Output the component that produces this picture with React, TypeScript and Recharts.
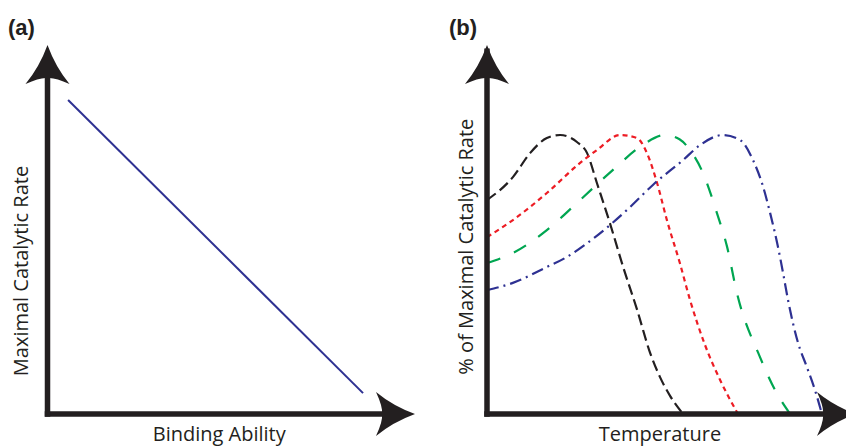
import React from "react";
import { LineChart, Line, XAxis, YAxis } from "recharts";

const INK = "#231f20";
const FONT = "'Open Sans', 'Noto Sans', sans-serif";

// panel (a): binding ability vs maximal catalytic rate
const bindingAbility = [0.61, 9.35];
const maxRate = [8.87, 0.59];

// panel (b): temperature vs % of maximal catalytic rate
const blackTemp = [0, 7.4, 12.3, 17.1, 20.9, 25.7, 28.6, 31.4, 35.1, 38.9, 42.9, 46.6, 49.4, 52.3, 56];
const blackRate = [76.7, 84.9, 93.5, 98.9, 100, 97.5, 93.5, 82.8, 68.5, 52.7, 37.3, 21.9, 13.3, 6.5, 0];

const redTemp = [0, 7.4, 17.1, 26.6, 31.4, 38, 42.9, 45.7, 48.6, 51.4, 55.1, 58, 62.3, 66.6, 71.7];
const redRate = [63.4, 69.5, 79.2, 90, 94.6, 100, 98.9, 93.5, 82.8, 69.5, 54.1, 40.9, 24.7, 12.2, 0];

const greenTemp = [0, 7.4, 17.1, 26.6, 36, 43.7, 50.9, 55, 58, 61.7, 65.7, 68.6, 71.4, 78, 82.3, 86.6];
const greenRate = [54.1, 57.7, 65.9, 76.7, 87.5, 95.7, 100, 98.5, 94.6, 86.4, 72, 59.9, 43.4, 20.4, 8.6, 0];

const blueTemp = [0, 7.4, 17.1, 22.3, 30.9, 40.9, 47.4, 56, 60.9, 67.4, 72.3, 76, 78.9, 80.9, 82.9, 84.6, 86, 88.9, 91.4, 93.7, 95.7];
const blueRate = [44.4, 47, 52.7, 55.9, 63.4, 74.2, 82.1, 91, 96.4, 100, 98.2, 91, 81.4, 72, 61.3, 50.5, 40.9, 25.4, 16.8, 8.6, 0];

const toPoints = (xs: number[], ys: number[]) => xs.map((x, i) => ({ x, y: ys[i] }));

const curves = [
  { name: "black", color: INK, dash: "11 5", data: toPoints(blackTemp, blackRate) },
  { name: "red", color: "#ed1c24", dash: "5 4", data: toPoints(redTemp, redRate) },
  { name: "green", color: "#00a651", dash: "14 15", data: toPoints(greenTemp, greenRate) },
  { name: "blue", color: "#2e3192", dash: "12 5 2 5", data: toPoints(blueTemp, blueRate) },
];

const AxisTitle = (props: any) => {
  const { viewBox, text, vertical, dx = 0, dy = 0 } = props;
  if (!viewBox) return null;
  const { x, y, width, height } = viewBox;
  const style = { fontFamily: FONT, fontSize: 20, fill: INK };
  if (vertical) {
    const cx = x + width + dx;
    const cy = y + height / 2 + dy;
    return (
      <text x={cx} y={cy} transform={`rotate(-90 ${cx} ${cy})`} textAnchor="middle" style={style}>
        {text}
      </text>
    );
  }
  return (
    <text x={x + width / 2 + dx} y={y + dy} textAnchor="middle" style={style}>
      {text}
    </text>
  );
};

const axisLine = { stroke: INK, strokeWidth: 5.5, strokeLinecap: "square" as const };

// arrowhead drawn pointing up from its tip, rotated for the x axes
const arrowPath = (x: number, t: number) => {
  const L = 39;
  const W = 22;
  return `M ${x} ${t} Q ${x + 8} ${t + 22} ${x + W} ${t + L} Q ${x + 7} ${t + L - 7} ${x} ${t + L - 6} Q ${x - 7} ${t + L - 7} ${x - W} ${t + L} Q ${x - 8} ${t + 22} ${x} ${t} Z`;
};

const Arrow = ({ x, y, dir }: { x: number; y: number; dir: "up" | "right" }) => (
  <path d={arrowPath(x, y)} fill={INK} transform={dir === "right" ? `rotate(90 ${x} ${y})` : undefined} />
);

const AXIS_W = 30;

export default function App() {
  return (
    <div style={{ position: "fixed", left: 0, top: 0, width: 846, height: 447, background: "#fff" }}>
      <div style={{ position: "absolute", left: 0, top: 0 }}>
        <LineChart
          width={430}
          height={447}
          data={toPoints(bindingAbility, maxRate)}
          margin={{ top: 60, right: 45, bottom: 33 - AXIS_W, left: 47.5 - AXIS_W }}
        >
          <XAxis
            dataKey="x"
            type="number"
            domain={[0, 10]}
            height={AXIS_W}
            tick={false}
            tickLine={false}
            axisLine={axisLine}
            label={<AxisTitle text="Binding Ability" dx={3} dy={27} />}
          />
          <YAxis
            dataKey="y"
            type="number"
            domain={[0, 10]}
            width={AXIS_W}
            tick={false}
            tickLine={false}
            axisLine={axisLine}
            label={<AxisTitle text="Maximal Catalytic Rate" vertical dx={-19.5} dy={34} />}
          />
          <Line dataKey="y" stroke="#2e3192" strokeWidth={2} dot={false} isAnimationActive={false} />
        </LineChart>
      </div>
      <div style={{ position: "absolute", left: 430, top: 0 }}>
        <LineChart width={416} height={447} margin={{ top: 51.3, right: 9, bottom: 33 - AXIS_W, left: 57 - AXIS_W }}>
          <XAxis
            dataKey="x"
            type="number"
            domain={[0, 100]}
            height={AXIS_W}
            tick={false}
            tickLine={false}
            axisLine={axisLine}
            allowDuplicatedCategory={false}
            label={<AxisTitle text="Temperature" dx={-2} dy={27} />}
          />
          <YAxis
            dataKey="y"
            type="number"
            domain={[0, 130]}
            width={AXIS_W}
            tick={false}
            tickLine={false}
            axisLine={axisLine}
            label={<AxisTitle text="% of Maximal Catalytic Rate" vertical dx={-14} dy={14} />}
          />
          {curves.map((c) => (
            <Line
              key={c.name}
              data={c.data}
              dataKey="y"
              type="monotone"
              stroke={c.color}
              strokeWidth={2.2}
              strokeDasharray={c.dash}
              dot={false}
              isAnimationActive={false}
            />
          ))}
        </LineChart>
      </div>
      <svg width={846} height={447} style={{ position: "absolute", left: 0, top: 0, pointerEvents: "none" }}>
        <Arrow x={47.5} y={45} dir="up" />
        <Arrow x={415} y={414} dir="right" />
        <Arrow x={487} y={45} dir="up" />
        <Arrow x={856} y={414} dir="right" />
        <text x={8} y={35} style={{ fontFamily: "'Liberation Sans', Arial, sans-serif", fontWeight: "bold", fontSize: 22, fill: INK }}>
          (a)
        </text>
        <text x={449} y={35} style={{ fontFamily: "'Liberation Sans', Arial, sans-serif", fontWeight: "bold", fontSize: 22, fill: INK }}>
          (b)
        </text>
      </svg>
    </div>
  );
}
